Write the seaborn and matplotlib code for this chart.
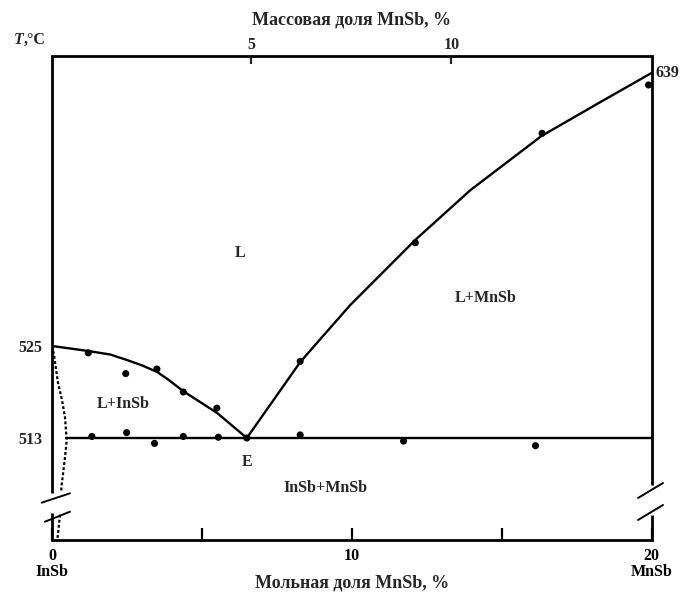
import numpy as np
import pandas as pd
import matplotlib
matplotlib.use("Agg")
import matplotlib.pyplot as plt
import seaborn as sns

# ---------------- data (mol % MnSb, temperature °C) ----------------
liq_left_x = [0.0, 1.20, 1.94, 2.50, 3.01, 3.51, 3.94, 4.37, 5.51, 6.50]
liq_left_t = [525.0, 524.35, 523.89, 523.17, 522.46, 521.61, 520.44, 519.13, 516.26, 513.0]

liq_right_x = [6.50, 8.28, 8.75, 9.95, 12.12, 13.96, 16.33, 18.30, 20.0]
liq_right_t = [513.0, 522.9, 525.0, 542.1, 569.3, 590.1, 612.7, 626.9, 639.0]

solidus_x = [0.47, 20.0]
solidus_t = [513.0, 513.0]

ss_upper_x = [0.0, 0.067, 0.20, 0.334, 0.434, 0.49, 0.434, 0.324, 0.30]
ss_upper_t = [525.0, 523.8, 520.2, 517.95, 515.7, 512.7, 510.5, 506.9, 505.9]
ss_lower_x = [0.267, 0.177]
ss_lower_t = [503.0, 499.7]

pts_liq_x = [1.21, 2.46, 3.50, 4.38, 5.50, 6.50, 8.28, 12.12, 16.35, 19.9]
pts_liq_t = [524.1, 521.4, 522.0, 519.0, 516.9, 513.0, 523.0, 568.1, 613.8, 634.0]

pts_sol_x = [1.33, 2.49, 3.42, 4.38, 5.55, 8.28, 11.73, 16.13]
pts_sol_t = [513.2, 513.7, 512.3, 513.2, 513.1, 513.4, 512.6, 512.0]

bottom_ticks = [0, 5, 10, 15, 20]
bottom_labels = ["0\nInSb", "", "10", "", "20\nMnSb"]
top_ticks = [6.64, 13.32]
top_labels = ["5", "10"]
left_ticks = [513, 525]
left_labels = ["513", "525"]
right_tick = 639

regions = ["L", "L+MnSb", "L+InSb", "E", "InSb+MnSb"]
region_x = [6.28, 14.46, 2.37, 6.51, 9.12]
region_t = [563.8, 545.0, 517.4, 509.9, 506.5]

# ---------------- style ----------------
sns.set_theme(style="white")
plt.rcParams["font.family"] = ["Liberation Serif", "DejaVu Serif"]
plt.rcParams["font.weight"] = "bold"
FS = 11.5
FSL = 13

fig = plt.figure(figsize=(6.88, 5.94), dpi=100)
ax = fig.add_axes([52 / 688, 54 / 594, 599.5 / 688, 484 / 594])

# non-linear (schematic) temperature axis
def fwd(t):
    t = np.asarray(t, dtype=float)
    return np.where(t <= 525, (t - 525) * 7.67, (t - 525) * 2.395)

def inv(u):
    u = np.asarray(u, dtype=float)
    return np.where(u <= 0, u / 7.67 + 525, u / 2.395 + 525)

ax.set_yscale("function", functions=(fwd, inv))
ax.set_xlim(0, 20)
ax.set_ylim(499.7, 646.1)

LW = 1.7
df_l = pd.DataFrame({"x": liq_left_x, "t": liq_left_t})
df_r = pd.DataFrame({"x": liq_right_x, "t": liq_right_t})
df_s = pd.DataFrame({"x": solidus_x, "t": solidus_t})
for d in (df_l, df_r, df_s):
    sns.lineplot(data=d, x="x", y="t", ax=ax, color="black", lw=LW, sort=False,
                 estimator=None, solid_joinstyle="round")

df_su = pd.DataFrame({"x": ss_upper_x, "t": ss_upper_t})
df_sl = pd.DataFrame({"x": ss_lower_x, "t": ss_lower_t})
for d in (df_su, df_sl):
    sns.lineplot(data=d, x="x", y="t", ax=ax, color="black", lw=1.6, sort=False,
                 estimator=None, linestyle=(0, (1.3, 1.0)))

pts = pd.DataFrame({"x": pts_liq_x + pts_sol_x, "t": pts_liq_t + pts_sol_t})
sns.scatterplot(data=pts, x="x", y="t", ax=ax, color="black", s=26, edgecolor="none",
                zorder=5, clip_on=False)

# spines with breaks
for s in ("left", "right"):
    ax.spines[s].set_visible(False)
for s in ("top", "bottom"):
    ax.spines[s].set_linewidth(2.0)
    ax.spines[s].set_color("black")
kw = dict(transform=ax.transAxes, color="black", lw=2.0, clip_on=False, solid_capstyle="butt")
ax.plot([0, 0], [1.0, 0.0971], **kw)
ax.plot([0, 0], [0.0558, 0.0], **kw)
ax.plot([1, 1], [1.0, 0.1136], **kw)
ax.plot([1, 1], [0.0517, 0.0], **kw)
kb = dict(transform=ax.transAxes, color="black", lw=1.4, clip_on=False)
ax.plot([-0.0172, 0.030], [0.0771, 0.0965], **kb)
ax.plot([-0.0117, 0.030], [0.0378, 0.0585], **kb)
ax.plot([0.9775, 1.0192], [0.0868, 0.1178], **kb)
ax.plot([0.9775, 1.0192], [0.0413, 0.0723], **kb)

# ticks
ax.set_xticks(bottom_ticks)
ax.set_xticklabels(bottom_labels, fontsize=FS, fontweight="bold", linespacing=1.0)
ax.tick_params(axis="x", direction="in", length=9, width=1.6, pad=6, bottom=True, colors="black")
ax.set_yticks(left_ticks)
ax.set_yticklabels(left_labels, fontsize=FS)
ax.tick_params(axis="y", length=0, pad=7, left=True)
ax.yaxis.set_minor_locator(matplotlib.ticker.NullLocator())
ax.text(1.006, right_tick, str(right_tick), transform=ax.get_yaxis_transform(),
        ha="left", va="center", fontsize=FS)

ax.set_xlabel("Мольная доля MnSb, %", fontsize=FSL, fontweight="bold")
ax.xaxis.set_label_coords(0.5, -0.071)
ax.set_ylabel("")

sec = ax.secondary_xaxis("top")
sec.set_xticks(top_ticks)
sec.set_xticklabels(top_labels, fontsize=FS, fontweight="bold")
sec.tick_params(direction="in", length=6, width=1.6, pad=2)
sec.spines["top"].set_visible(False)
sec.set_xlabel("Массовая доля MnSb, %", fontsize=FSL, fontweight="bold", labelpad=9)

ax.text(-0.047, 1.033, "T", transform=ax.transAxes, ha="right", va="center",
        fontsize=FS, fontstyle="italic", fontweight="bold")
ax.text(-0.047, 1.033, ",°C", transform=ax.transAxes, ha="left", va="center",
        fontsize=FS, fontweight="bold")

for lab, x, t in zip(regions, region_x, region_t):
    ax.text(x, t, lab, ha="center", va="center", fontsize=FS, fontweight="bold")

fig.savefig("out.png", dpi=100)
